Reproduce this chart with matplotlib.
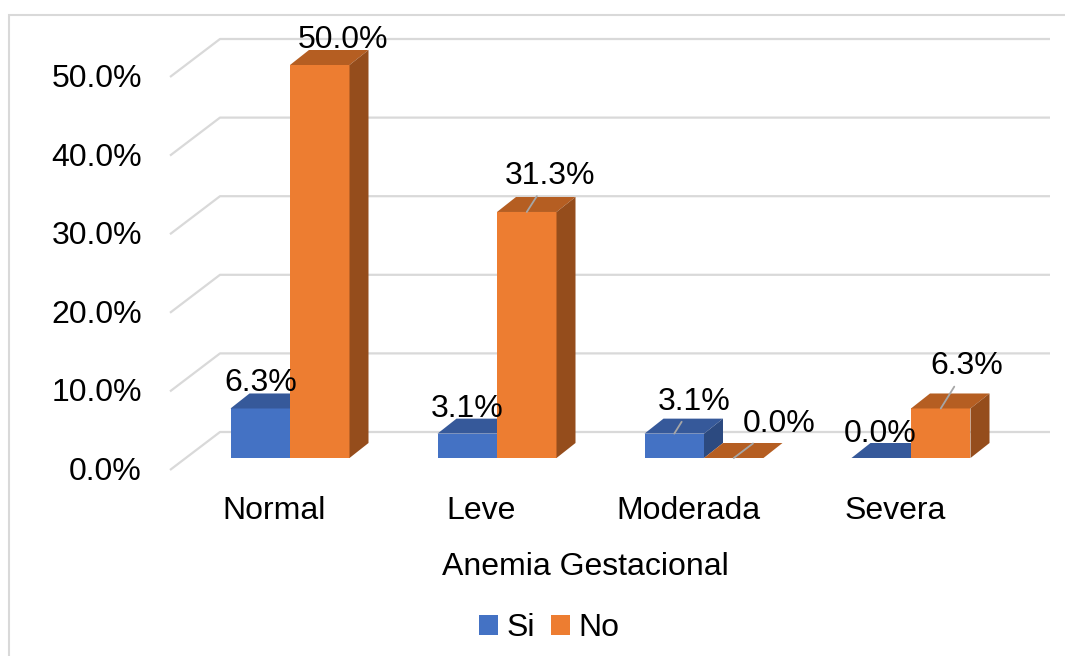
import matplotlib.pyplot as plt
from matplotlib.patches import Polygon, Rectangle, Patch

plt.rcParams["font.family"] = ["Liberation Sans", "DejaVu Sans"]

categorias = ["Normal", "Leve", "Moderada", "Severa"]
series = ["Si", "No"]
si_vals = [6.3, 3.1, 3.1, 0.0]
no_vals = [50.0, 31.3, 0.0, 6.3]
y_ticks = [0, 10, 20, 30, 40, 50]
eje_titulo = "Anemia Gestacional"

# colores: frente, tapa, lateral
colores = {
    "Si": ("#4472C4", "#36599A", "#2C4A80"),
    "No": ("#ED7D31", "#B55E22", "#954D1C"),
}

FS = 23

# geometria del "3D" (px por categoria / px por %)
PXC = 207.0
PXY = 7.86
DX, DY = 50 / PXC, 38 / PXY      # profundidad del piso
FX, FY = 15.5 / PXC, 12 / PXY    # frente de las barras
BDX, BDY = 19 / PXC, 15 / PXY    # profundidad de la barra
W = 59.5 / PXC

# desplazamiento de etiquetas (px) y lineas guia
offs = [(0, 25), (23, 25), (0, 25), (23, 36), (20, 32), (45, 34), (-1, 24), (26, 42)]
guia = [False, False, False, True, True, True, False, True]

fig = plt.figure(figsize=(10.65, 6.56), dpi=100)
ax = fig.add_axes([170 / 1065, (656 - 470) / 656, 880 / 1065, 440 / 656])
x0, x1 = -120 / PXC, 760 / PXC
ax.set_xlim(x0, x1)
ax.set_ylim(0, 440 / PXY)
ax.axis("off")

# lineas de cuadricula (pared y piso)
for v in y_ticks:
    ax.plot([x0, x0 + DX, x1], [v, v + DY, v + DY], color="#D9D9D9", lw=1.6,
            zorder=0, clip_on=False, solid_capstyle="butt")
    ax.annotate(f"{v:.1f}%", xy=(x0, v), xytext=(-28, -2), textcoords="offset pixels",
                ha="right", va="center", fontsize=FS, annotation_clip=False)

z = 1
k = 0
for i, cat in enumerate(categorias):
    for j, (nombre, vals) in enumerate(zip(series, [si_vals, no_vals])):
        v = vals[i]
        frente, tapa, lado = colores[nombre]
        left = i - W + j * W
        ax.bar(left, v, width=W, bottom=FY, align="edge", color=frente,
               linewidth=0, zorder=z)
        top = [(left, FY + v), (left + W, FY + v),
               (left + W + BDX, FY + v + BDY), (left + BDX, FY + v + BDY)]
        ax.add_patch(Polygon(top, closed=True, facecolor=tapa, lw=0, zorder=z + 0.1))
        side = [(left + W, FY), (left + W + BDX, FY + BDY),
                (left + W + BDX, FY + v + BDY), (left + W, FY + v)]
        ax.add_patch(Polygon(side, closed=True, facecolor=lado, lw=0, zorder=z + 0.2))
        z += 1

        arrow = None
        if guia[k]:
            arrow = dict(arrowstyle="-", color="#A6A6A6", lw=1.3, shrinkA=2, shrinkB=0)
        ax.annotate(f"{v:.1f}%", xy=(left + W / 2, FY + v), xytext=offs[k],
                    textcoords="offset pixels", ha="center", va="center",
                    fontsize=FS, arrowprops=arrow, zorder=50)
        k += 1

for i, cat in enumerate(categorias):
    ax.annotate(cat, xy=(i - FX, 0), xytext=(0, -41), textcoords="offset pixels",
                ha="center", va="center", fontsize=FS, annotation_clip=False)

fig.text(585 / 1065, 1 - 567 / 656, eje_titulo, ha="center", va="center", fontsize=FS)

handles = [Patch(facecolor=colores[s][0]) for s in series]
fig.legend(handles, series, loc="center", bbox_to_anchor=(549 / 1065, 1 - 628 / 656),
           ncol=2, frameon=False, fontsize=FS, handlelength=0.6, handleheight=0.6,
           handletextpad=0.25, columnspacing=0.5)

fig.add_artist(Rectangle((9 / 1065, -0.1), 1.2, 1.1 - 15 / 656, transform=fig.transFigure,
                         fill=False, edgecolor="#D9D9D9", lw=1.5))

fig.savefig("out.png", dpi=100)
